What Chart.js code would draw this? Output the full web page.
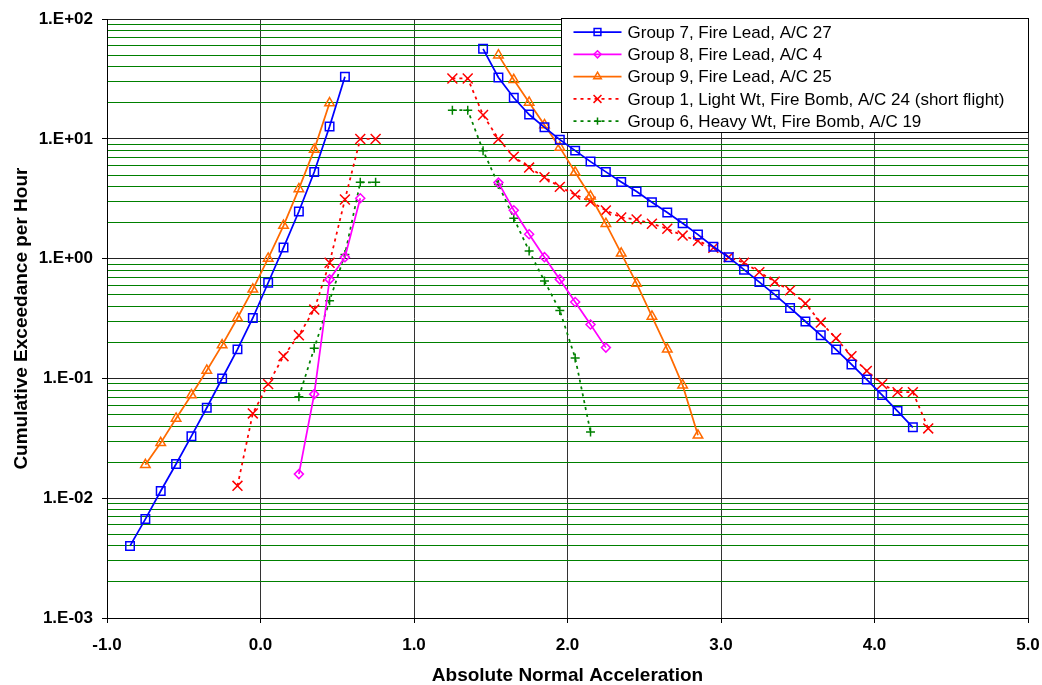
<!DOCTYPE html>
<html>
<head>
<meta charset="utf-8">
<script src="https://cdn.jsdelivr.net/npm/chart.js@4/dist/chart.umd.min.js"></script>
<style>
	body { margin: 0; background: #fff; }
	#wrap { width: 1042px; height: 685px; position: relative; }
</style>
</head>
<body>
<div id="wrap"><canvas id="canvas"></canvas></div>
<script>
// series data, null y = gap between the two branches
var labels = [
	"Group 7, Fire Lead, A/C 27",
	"Group 8, Fire Lead, A/C 4",
	"Group 9, Fire Lead, A/C 25",
	"Group 1, Light Wt, Fire Bomb, A/C 24 (short flight)",
	"Group 6, Heavy Wt, Fire Bomb, A/C 19"
];

var g7x = [-0.85,-0.75,-0.65,-0.55,-0.45,-0.35,-0.25,-0.15,-0.05,0.05,0.15,0.25,0.35,0.45,0.55, 1.0,
	1.45,1.55,1.65,1.75,1.85,1.95,2.05,2.15,2.25,2.35,2.45,2.55,2.65,2.75,2.85,2.95,3.05,3.15,3.25,3.35,3.45,3.55,3.65,3.75,3.85,3.95,4.05,4.15,4.25];
var g7y = [0.0040,0.0067,0.0115,0.0193,0.033,0.057,0.10,0.175,0.32,0.63,1.24,2.48,5.3,12.7,33, null,
	56.6,32.6,22.1,16.0,12.5,9.87,7.99,6.47,5.31,4.38,3.64,2.96,2.43,1.98,1.59,1.26,1.03,0.81,0.638,0.501,0.388,0.299,0.230,0.1745,0.131,0.098,0.0727,0.0534,0.0391];

var g8x = [0.25,0.35,0.45,0.55,0.65, 1.0, 1.55,1.65,1.75,1.85,1.95,2.05,2.15,2.25];
var g8y = [0.0159,0.074,0.672,1.03,3.2, null, 4.32,2.54,1.60,1.03,0.672,0.435,0.282,0.181];

var g9x = [-0.75,-0.65,-0.55,-0.45,-0.35,-0.25,-0.15,-0.05,0.05,0.15,0.25,0.35,0.45, 1.0,
	1.55,1.65,1.75,1.85,1.95,2.05,2.15,2.25,2.35,2.45,2.55,2.65,2.75,2.85];
var g9y = [0.019,0.029,0.0464,0.0727,0.1166,0.19,0.32,0.555,1.006,1.89,3.83,8.15,19.95, null,
	50.1,31.2,20.2,13.1,8.5,5.27,3.32,1.96,1.11,0.622,0.33,0.1755,0.088,0.0335];

var g1x = [-0.15,-0.05,0.05,0.15,0.25,0.35,0.45,0.55,0.65,0.75, 1.0,
	1.25,1.35,1.45,1.55,1.65,1.75,1.85,1.95,2.05,2.15,2.25,2.35,2.45,2.55,2.65,2.75,2.85,2.95,3.05,3.15,3.25,3.35,3.45,3.55,3.65,3.75,3.85,3.95,4.05,4.15,4.25,4.35];
var g1y = [0.0127,0.0511,0.0897,0.1535,0.2296,0.376,0.926,3.12,10.0,10.0, null,
	32.0,32.0,15.85,10.0,7.12,5.77,4.79,3.98,3.43,3.0,2.53,2.21,2.13,1.96,1.78,1.56,1.41,1.235,1.03,0.926,0.773,0.643,0.544,0.422,0.293,0.217,0.1535,0.1157,0.0897,0.0769,0.0769,0.0383];

var g6x = [0.25,0.35,0.45,0.55,0.65,0.75, 1.0, 1.25,1.35,1.45,1.55,1.65,1.75,1.85,1.95,2.05,2.15];
var g6y = [0.0703,0.179,0.445,1.086,4.34,4.34, null, 17.4,17.4,7.99,4.16,2.18,1.16,0.651,0.369,0.1486,0.0357];

// axis ticks
var xTicks = [-1, 0, 1, 2, 3, 4, 5];
var yDecades = [0.001, 0.01, 0.1, 1, 10, 100];

function pts(xs, ys) {
	return xs.map(function(x, i) { return {x: x, y: ys[i]}; });
}

function isDecade(v) {
	var l = Math.log10(v);
	return Math.abs(l - Math.round(l)) < 1e-9;
}

function yTickList() {
	var out = [];
	yDecades.forEach(function(d, i) {
		out.push(d);
		if (i < yDecades.length - 1) {
			for (var m = 2; m <= 9; m++) out.push(+(d * m).toPrecision(3));
		}
	});
	return out;
}

function fmtExp(v) {
	var e = Math.round(Math.log10(v));
	return '1.E' + (e < 0 ? '-' : '+') + String(Math.abs(e)).padStart(2, '0');
}

function series(label, xs, ys, color, style, radius, dash) {
	return {
		label: label,
		data: pts(xs, ys),
		borderColor: color,
		backgroundColor: color,
		borderWidth: 1.75,
		borderDash: dash || [],
		pointStyle: style,
		pointRadius: radius,
		pointBorderColor: color,
		pointBackgroundColor: 'rgba(0,0,0,0)',
		pointBorderWidth: 1.5,
		spanGaps: false,
		tension: 0
	};
}

Chart.defaults.font.family = '"Liberation Sans", Arial, sans-serif';
Chart.defaults.color = '#000';

// legend drawn like the excel one: line + marker sample
var legendBox = {
	id: 'legendBox',
	afterDraw: function(chart) {
		var ctx = chart.ctx, area = chart.chartArea;
		var w = 467, h = 114;
		var x0 = Math.round(area.right - w) + 0.5, y0 = Math.round(area.top - 1) + 0.5;
		ctx.save();
		ctx.fillStyle = '#fff';
		ctx.fillRect(x0, y0, w, h);
		ctx.strokeStyle = '#000';
		ctx.lineWidth = 1;
		ctx.strokeRect(x0, y0, w, h);
		ctx.font = '17px "Liberation Sans", Arial, sans-serif';
		ctx.textBaseline = 'middle';
		ctx.textAlign = 'left';
		chart.data.datasets.forEach(function(ds, i) {
			var y = y0 + 13.5 + i * 22.3;
			ctx.strokeStyle = ds.borderColor;
			ctx.lineWidth = ds.borderWidth;
			ctx.setLineDash(ds.borderDash);
			ctx.beginPath();
			ctx.moveTo(x0 + 12, y);
			ctx.lineTo(x0 + 60, y);
			ctx.stroke();
			ctx.setLineDash([]);
			ctx.fillStyle = 'rgba(0,0,0,0)';
			ctx.lineWidth = ds.pointBorderWidth;
			Chart.helpers.drawPoint(ctx, {pointStyle: ds.pointStyle, radius: ds.pointRadius * 0.8, borderWidth: ds.pointBorderWidth, rotation: 0}, x0 + 36, y);
			ctx.fillStyle = '#000';
			ctx.fillText(ds.label, x0 + 66, y + 1);
		});
		ctx.restore();
	}
};

var config = {
	type: 'line',
	data: {
		datasets: [
			series(labels[0], g7x, g7y, '#0000ff', 'rect', 6),
			series(labels[1], g8x, g8y, '#ff00ff', 'rectRot', 4.5),
			series(labels[2], g9x, g9y, '#ff6a00', 'triangle', 5.5),
			series(labels[3], g1x, g1y, '#ff0000', 'crossRot', 7, [3, 4]),
			series(labels[4], g6x, g6y, '#008000', 'cross', 4.5, [3, 4])
		]
	},
	options: {
		responsive: true,
		maintainAspectRatio: false,
		animation: false,
		events: [],
		layout: { padding: { top: 18, right: 14, left: 0, bottom: 0 } },
		plugins: {
			legend: { display: false },
			tooltip: { enabled: false }
		},
		scales: {
			x: {
				type: 'linear',
				min: xTicks[0],
				max: xTicks[xTicks.length - 1],
				afterBuildTicks: function(s) { s.ticks = xTicks.map(function(v) { return {value: v}; }); },
				afterFit: function(s) {
					s.height = 67;
					s.paddingLeft = 0;
					s.paddingRight = 0;
				},
				ticks: {
					padding: 12,
					font: { size: 17, weight: 'bold' },
					callback: function(v) { return Number(v).toFixed(1); }
				},
				grid: { color: '#333', lineWidth: 1, tickLength: 5, tickColor: '#000' },
				border: { color: '#000', width: 1 },
				title: {
					display: true,
					text: 'Absolute Normal Acceleration',
					font: { size: 19, weight: 'bold', lineHeight: 1 },
					padding: { top: 0, bottom: 0 }
				}
			},
			y: {
				type: 'logarithmic',
				min: yDecades[0],
				max: yDecades[yDecades.length - 1],
				afterBuildTicks: function(s) { s.ticks = yTickList().map(function(v) { return {value: v}; }); },
				afterFit: function(s) { s.width = 107; },
				ticks: {
					autoSkip: false,
					padding: 9,
					font: { size: 17, weight: 'bold' },
					callback: function(v) { return isDecade(v) ? fmtExp(v) : ''; }
				},
				grid: {
					lineWidth: 1,
					tickLength: 5,
					color: function(c) { return c.tick && isDecade(c.tick.value) ? '#222' : '#008000'; },
					tickColor: function(c) { return c.tick && isDecade(c.tick.value) ? '#000' : 'rgba(0,0,0,0)'; }
				},
				border: { color: '#000', width: 1 },
				title: {
					display: true,
					text: 'Cumulative Exceedance per Hour',
					font: { size: 19, weight: 'bold', lineHeight: 1 },
					padding: { top: 12, bottom: 0 }
				}
			}
		}
	},
	plugins: [legendBox]
};

var myChart = new Chart(document.getElementById("canvas"), config);
</script>
</body>
</html>
